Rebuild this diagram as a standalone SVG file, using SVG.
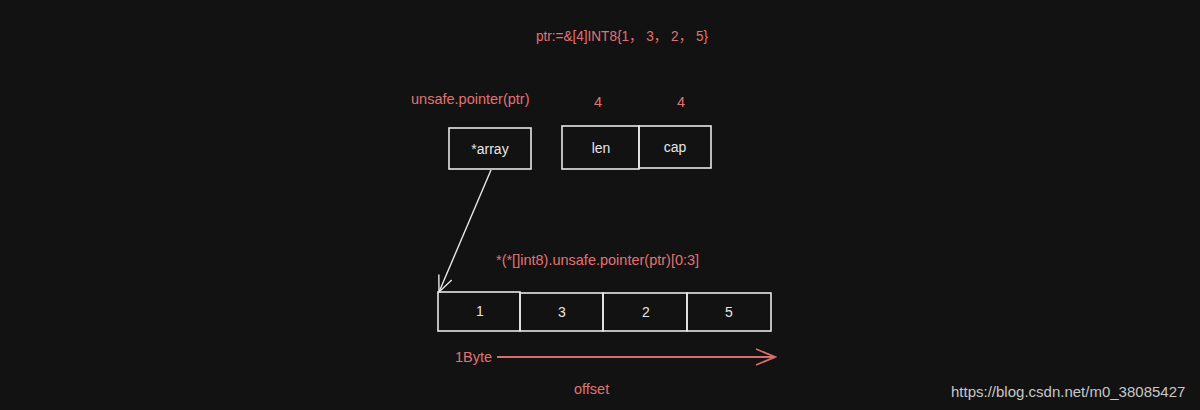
<svg xmlns="http://www.w3.org/2000/svg" width="1200" height="410" viewBox="0 0 1200 410">
<style>
.red{fill:#e27272;font-family:"Liberation Sans","Noto Sans CJK SC",Arial,sans-serif;font-size:14.5px}
.wt{fill:#e6e6e6;font-family:"Liberation Sans",Arial,sans-serif;font-size:14px;text-anchor:middle}
.box{fill:none;stroke:#e8e8e8;stroke-width:1.6}
.wm{fill:#c8c8c8;font-family:"Liberation Sans",Arial,sans-serif;font-size:15px}
</style>
<defs>
<marker id="wa" markerWidth="22" markerHeight="20" refX="19" refY="10" orient="auto" markerUnits="userSpaceOnUse">
<path d="M3,3 L19,10 L3,17" fill="none" stroke="#e8e8e8" stroke-width="1.4"/>
</marker>
<marker id="ra" markerWidth="24" markerHeight="20" refX="22" refY="10" orient="auto" markerUnits="userSpaceOnUse">
<path d="M3,2 L22,10 L3,18" fill="none" stroke="#d96c6c" stroke-width="1.8"/>
</marker>
</defs>
<rect width="1200" height="410" fill="#121212"/>
<g id="title"><text class="red" x="536" y="41" textLength="172" lengthAdjust="spacingAndGlyphs">ptr:=&amp;[4]INT8{1， 3， 2， 5}</text></g>
<g id="ptrlabel"><text class="red" x="411" y="104">unsafe.pointer(ptr)</text></g>
<g id="len4"><text class="red" x="598" y="107" text-anchor="middle">4</text></g>
<g id="cap4"><text class="red" x="681" y="107" text-anchor="middle">4</text></g>
<g id="array"><rect class="box" x="449" y="128" width="82" height="41"/><text class="wt" x="490" y="154">*array</text></g>
<g id="len"><rect class="box" x="562" y="126" width="77" height="43"/><text class="wt" x="601" y="153">len</text></g>
<g id="cap"><rect class="box" x="639" y="126" width="72" height="42"/><text class="wt" x="675" y="152">cap</text></g>
<g id="slicelabel"><text class="red" x="496" y="265">*(*[]int8).unsafe.pointer(ptr)[0:3]</text></g>
<g id="e1"><rect class="box" x="438" y="292" width="82" height="39"/><text class="wt" x="480" y="316">1</text></g>
<g id="e3"><rect class="box" x="520" y="293" width="83" height="38"/><text class="wt" x="562" y="317">3</text></g>
<g id="e2"><rect class="box" x="603" y="293" width="84" height="38"/><text class="wt" x="646" y="317">2</text></g>
<g id="e5"><rect class="box" x="687" y="293" width="84" height="38"/><text class="wt" x="729" y="317">5</text></g>
<g id="connectors">
<line x1="491" y1="170" x2="439" y2="292" stroke="#e8e8e8" stroke-width="1.4" marker-end="url(#wa)"/>
<line x1="497" y1="357" x2="775" y2="357" stroke="#d96c6c" stroke-width="1.8" marker-end="url(#ra)"/>
</g>
<g id="bytelabel"><text class="red" x="455" y="362">1Byte</text></g>
<g id="offset"><text class="red" x="574" y="394">offset</text></g>
<g id="watermark"><text class="wm" x="951" y="397">https://blog.csdn.net/m0_38085427</text></g>
</svg>
